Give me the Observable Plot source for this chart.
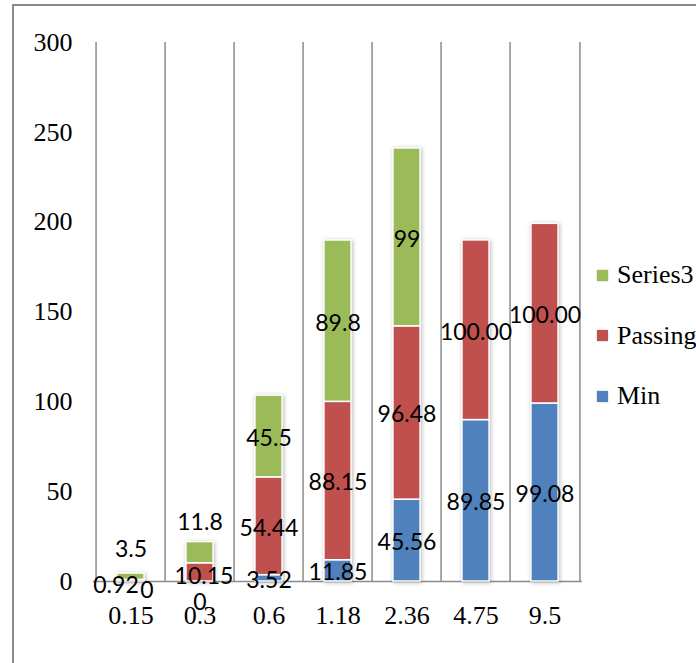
<!DOCTYPE html>
<html>
<head>
<meta charset="utf-8">
<script src="https://cdn.jsdelivr.net/npm/d3@7"></script>
<script src="https://cdn.jsdelivr.net/npm/@observablehq/plot@0.6"></script>
<style>
  html, body { margin: 0; padding: 0; background: #fff; }
  #wrap { position: relative; width: 696px; height: 663px; overflow: hidden; }
  #frame { position: absolute; left: 12px; top: 4px; width: 720px; height: 657px;
           border-left: 2px solid #8a8a8a; border-top: 2px solid #8a8a8a; border-bottom: 1px solid #e2e2e2; pointer-events: none; }
  #legend { position: absolute; left: 597px; top: 262px; font-family: "Liberation Serif", serif; font-size: 26px; color: #000; white-space: nowrap; }
  .item { position: absolute; left: 0; height: 26px; display: flex; align-items: center; }
  .sw { width: 11px; height: 11px; margin-right: 9px; box-shadow: 0 0 2px rgba(0,0,0,0.25); }
</style>
</head>
<body>
<div id="wrap"><div id="frame"></div><div id="legend"></div></div>
<script>
// ---- data ----
const categories = ["0.15", "0.3", "0.6", "1.18", "2.36", "4.75", "9.5"];
const minValues = [0, 0, 3.52, 11.85, 45.56, 89.85, 99.08];
const passingValues = [0.92, 10.15, 54.44, 88.15, 96.48, 100, 100];
const series3Values = [3.5, 11.8, 45.5, 89.8, 99, null, null];
const seriesNames = ["Min", "Passing", "Series3"];      // stacking order, bottom to top
const legendOrder = ["Series3", "Passing", "Min"];
const yTicks = [0, 50, 100, 150, 200, 250, 300];

// ---- styling ----
const colorRange = ["#4F81BD", "#C0504D", "#9BBB59"];
const W = 696, H = 663;
const mL = 93, mR = 114, mT = 42, mB = 82;
const step = (W - mL - mR) / categories.length;
const barW = 28;
const inset = (step - barW) / 2;
const gridColor = "#8c8c8c";

const seriesValues = {Min: minValues, Passing: passingValues, Series3: series3Values};
const fmt = {
  Min: v => String(v),
  Passing: v => v.toFixed(2),
  Series3: v => String(v)
};
const rows = [];
for (const s of seriesNames) {
  seriesValues[s].forEach((v, i) => {
    if (v == null) return;
    rows.push({cat: categories[i], series: s, value: v, label: fmt[s](v)});
  });
}

// label nudges (pixels) for crowded small segments
const baseDy = 2;
const nudges = {
  "0.15|Series3": [0, -29],
  "0.15|Passing": [-15, 3],
  "0.15|Min": [16, 7],
  "0.3|Series3": [0, -32],
  "0.3|Passing": [4, 2],
  "0.3|Min": [0, 19]
};
const keyOf = d => d.cat + "|" + d.series;

const labelBase = {fontFamily: "Lato, sans-serif", fontSize: 23, fill: "#000"};
const stackOpts = {x: "cat", y: "value", z: "series", order: seriesNames};

const marks = [
  Plot.ruleX(categories, {x: d => d, dx: -step / 2, y1: 0, y2: 300, stroke: gridColor, strokeWidth: 1.5}),
  Plot.ruleX([categories[categories.length - 1]], {x: d => d, dx: step / 2, y1: 0, y2: 300, stroke: gridColor, strokeWidth: 1.5}),
  Plot.ruleY([0], {stroke: gridColor, strokeWidth: 1.5}),
  Plot.barY(rows.filter(d => d.value > 0), Plot.stackY({
    ...stackOpts, fill: "series",
    insetLeft: inset, insetRight: inset,
    stroke: "white", strokeWidth: 1.5
  })),
  Plot.text(rows, Plot.stackY({...stackOpts, text: d => nudges[keyOf(d)] ? null : d.label, dy: baseDy, ...labelBase})),
  ...Object.entries(nudges).map(([k, [dx, dy]]) =>
    Plot.text(rows, Plot.stackY({...stackOpts, text: d => keyOf(d) === k ? d.label : null, dx, dy: dy + baseDy, ...labelBase}))
  ),
  Plot.axisY({ticks: yTicks, tickSize: 0, tickPadding: 21, label: null, fontSize: 26, fontFamily: "Liberation Serif"}),
  Plot.axisX({tickSize: 0, tickPadding: 24, label: null, fontSize: 26, fontFamily: "Liberation Serif"})
];

const chart = Plot.plot({
  width: W, height: H,
  marginLeft: mL, marginRight: mR, marginTop: mT, marginBottom: mB,
  style: {fontFamily: "Liberation Serif", color: "#000", background: "transparent", overflow: "visible"},
  x: {type: "band", domain: categories, padding: 0},
  y: {domain: [0, 300]},
  color: {domain: seriesNames, range: colorRange},
  marks
});
d3.select(chart).selectAll("g[aria-label='bar']").style("filter", "drop-shadow(1px 1px 2px rgba(0,0,0,0.28))");
document.getElementById("wrap").prepend(chart);

// legend
const leg = document.getElementById("legend");
const colorOf = Object.fromEntries(seriesNames.map((s, i) => [s, colorRange[i]]));
legendOrder.forEach((s, i) => {
  const it = document.createElement("div");
  it.className = "item";
  it.style.top = (i * 60.5) + "px";
  const sw = document.createElement("span");
  sw.className = "sw";
  sw.style.background = colorOf[s];
  const tx = document.createElement("span");
  tx.textContent = s;
  it.append(sw, tx);
  leg.append(it);
});
</script>
</body>
</html>
